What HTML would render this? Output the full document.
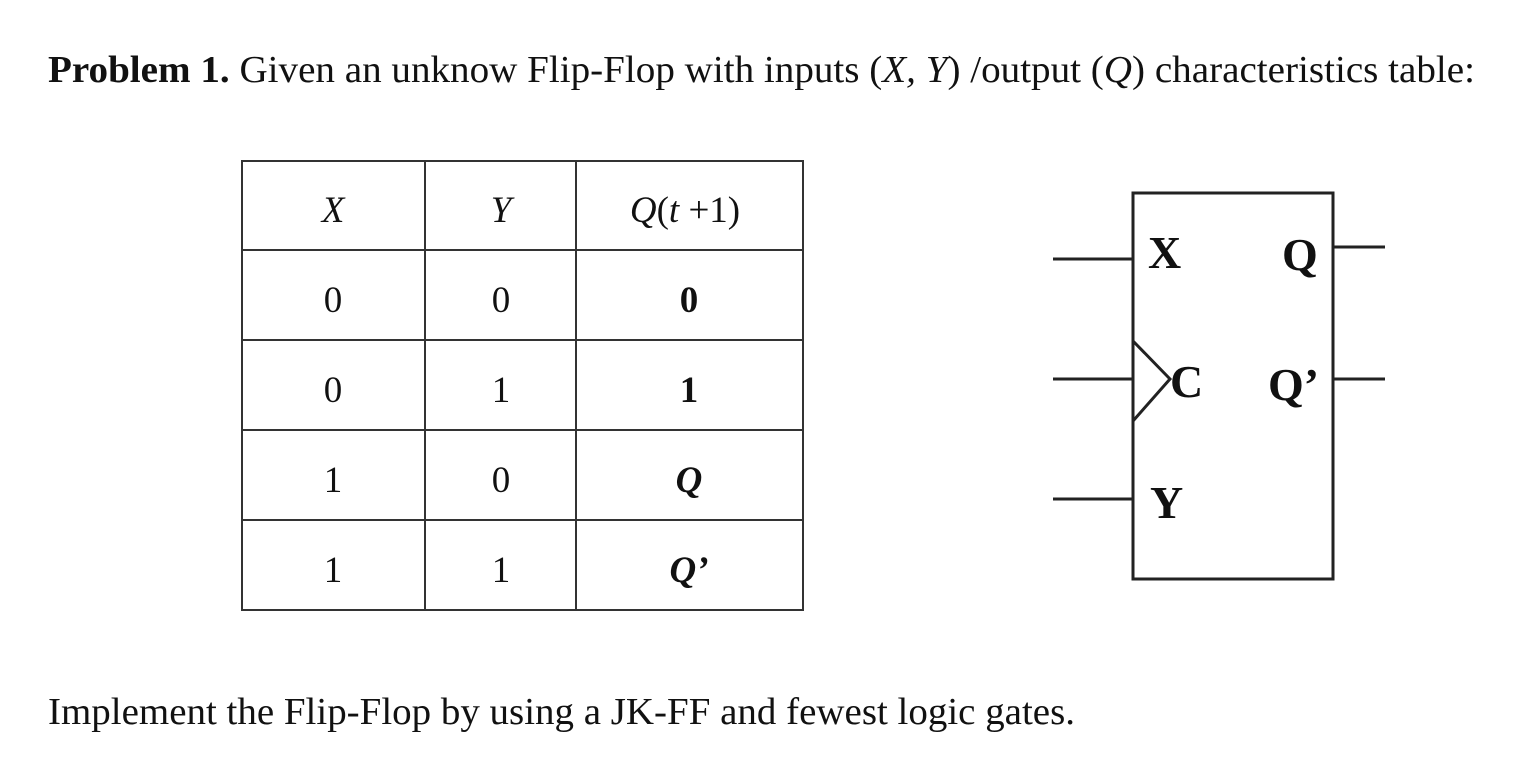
<!DOCTYPE html>
<html><head><meta charset="utf-8"><style>
html,body{margin:0;padding:0;background:#fff;}
body{width:1532px;height:774px;overflow:hidden;}
svg text{font-family:"Liberation Serif",serif;fill:#111;}
</style></head><body>
<svg width="1532" height="774" xmlns="http://www.w3.org/2000/svg">
<text x="48" y="82" font-size="38" textLength="1427" lengthAdjust="spacingAndGlyphs"><tspan font-weight="bold">Problem 1.</tspan> Given an unknow Flip-Flop with inputs (<tspan font-style="italic">X, Y</tspan>) /output (<tspan font-style="italic">Q</tspan>) characteristics table:</text>
<g stroke="#333" stroke-width="2" fill="none">
<rect x="242" y="161" width="561" height="449"/>
<line x1="425" y1="161" x2="425" y2="610"/>
<line x1="576" y1="161" x2="576" y2="610"/>
<line x1="242" y1="250" x2="803" y2="250"/>
<line x1="242" y1="340" x2="803" y2="340"/>
<line x1="242" y1="430" x2="803" y2="430"/>
<line x1="242" y1="520" x2="803" y2="520"/>
</g>
<g font-size="37" text-anchor="middle">
<text x="333" y="222" font-style="italic">X</text>
<text x="501" y="222" font-style="italic">Y</text>
<text x="685" y="222"><tspan font-style="italic">Q</tspan>(<tspan font-style="italic">t</tspan> +1)</text>
<text x="333" y="312">0</text><text x="501" y="312">0</text><text x="689" y="312" font-weight="bold">0</text>
<text x="333" y="402">0</text><text x="501" y="402">1</text><text x="689" y="402" font-weight="bold">1</text>
<text x="333" y="492">1</text><text x="501" y="492">0</text><text x="689" y="492" font-weight="bold" font-style="italic">Q</text>
<text x="333" y="582">1</text><text x="501" y="582">1</text><text x="689" y="582" font-weight="bold" font-style="italic">Q’</text>
</g>
<g stroke="#222" stroke-width="3" fill="none">
<rect x="1133" y="193" width="200" height="386"/>
<line x1="1053" y1="259" x2="1133" y2="259"/>
<line x1="1053" y1="379" x2="1133" y2="379"/>
<line x1="1053" y1="499" x2="1133" y2="499"/>
<line x1="1333" y1="247" x2="1385" y2="247"/>
<line x1="1333" y1="379" x2="1385" y2="379"/>
<polyline points="1133,341 1170,379 1133,421"/>
</g>
<g font-size="46" font-weight="bold">
<text x="1148" y="268">X</text>
<text x="1282" y="270">Q</text>
<text x="1170" y="397">C</text>
<text x="1268" y="400">Q’</text>
<text x="1150" y="518">Y</text>
</g>
<text x="48" y="724" font-size="38" textLength="1027" lengthAdjust="spacingAndGlyphs">Implement the Flip-Flop by using a JK-FF and fewest logic gates.</text>
</svg>
</body></html>
